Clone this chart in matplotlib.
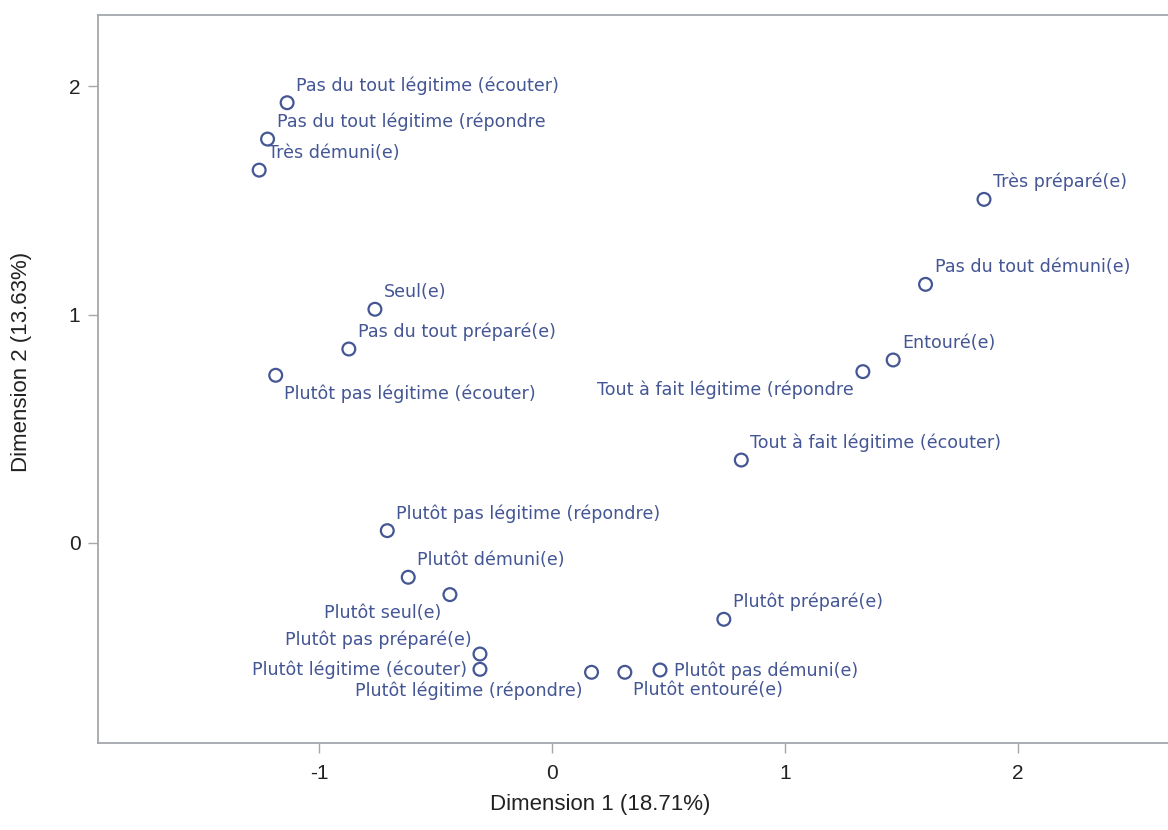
import matplotlib
matplotlib.use("Agg")
import matplotlib.pyplot as plt

plt.rcParams["font.family"] = "sans-serif"
plt.rcParams["font.sans-serif"] = ["Liberation Sans", "Arial", "DejaVu Sans"]

# --- data ---
labels = [
    "Pas du tout légitime (écouter)",
    "Pas du tout légitime (répondre",
    "Très démuni(e)",
    "Très préparé(e)",
    "Pas du tout démuni(e)",
    "Seul(e)",
    "Pas du tout préparé(e)",
    "Plutôt pas légitime (écouter)",
    "Entouré(e)",
    "Tout à fait légitime (répondre",
    "Tout à fait légitime (écouter)",
    "Plutôt pas légitime (répondre)",
    "Plutôt démuni(e)",
    "Plutôt seul(e)",
    "Plutôt pas préparé(e)",
    "Plutôt légitime (écouter)",
    "Plutôt légitime (répondre)",
    "Plutôt entouré(e)",
    "Plutôt pas démuni(e)",
    "Plutôt préparé(e)",
]
dim1 = [-1.139, -1.223, -1.259, 1.853, 1.602, -0.762, -0.874, -1.188, 1.463, 1.333,
        0.811, -0.709, -0.619, -0.440, -0.311, -0.311, 0.168, 0.311, 0.462, 0.736]
dim2 = [1.927, 1.768, 1.632, 1.504, 1.132, 1.023, 0.849, 0.734, 0.801, 0.750,
        0.363, 0.054, -0.150, -0.226, -0.486, -0.553, -0.566, -0.566, -0.556, -0.334]

xticks = [-1, 0, 1, 2]
yticks = [0, 1, 2]

# --- label placement (layout only) ---
place = ["ur", "ur", "ur", "ur", "ur", "ur", "ur", "lr", "ur", "ll",
         "ur", "ur", "ur", "ll", "ul", "l", "ll", "lr", "r", "ur"]

px = 0.72  # points per pixel at dpi 100
offsets = {
    "ur": ((9, 12), "left", "baseline"),
    "lr": ((8, -9), "left", "top"),
    "ll": ((-9, -9), "right", "top"),
    "ul": ((-8, 9), "right", "baseline"),
    "l": ((-13, -6), "right", "baseline"),
    "r": ((14, -6), "left", "baseline"),
}

col = "#445694"
frame = "#a4a8ac"

fig = plt.figure(figsize=(11.68, 8.30), dpi=100)
ax = fig.add_axes([0.0843, 0.1044, 1 - 0.0843, 0.8778])

ax.scatter(dim1, dim2, s=85, facecolors="none", edgecolors=col, linewidths=1.6, zorder=3)

for lab, x, y, p in zip(labels, dim1, dim2, place):
    (dx, dy), ha, va = offsets[p]
    ax.annotate(lab, (x, y), xytext=(dx * px, dy * px), textcoords="offset points",
                ha=ha, va=va, color=col, fontsize=12.6, family="DejaVu Sans")

ax.set_xlim(-1.949, 2.643)
ax.set_ylim(-0.877, 2.312)
ax.set_xticks(xticks)
ax.set_yticks(yticks)
ax.set_xticklabels([str(t) for t in xticks])
ax.set_yticklabels([str(t) for t in yticks])

for s in ["left", "bottom", "top"]:
    ax.spines[s].set_color(frame)
    ax.spines[s].set_linewidth(1.3)
ax.spines["right"].set_visible(False)

ax.tick_params(axis="both", colors=frame, length=7, width=1.0, labelcolor="#222222",
               labelsize=15)
ax.tick_params(axis="x", pad=8)
ax.tick_params(axis="y", pad=6)

ax.set_xlabel("Dimension 1 (18.71%)", fontsize=16, color="#222222", va="center")
ax.set_ylabel("Dimension 2 (13.63%)", fontsize=16, color="#222222", va="center")
ax.xaxis.set_label_coords(0.469, -0.0845)
ax.yaxis.set_label_coords(-0.0715, 0.5235)

fig.savefig("out.png", dpi=100)
